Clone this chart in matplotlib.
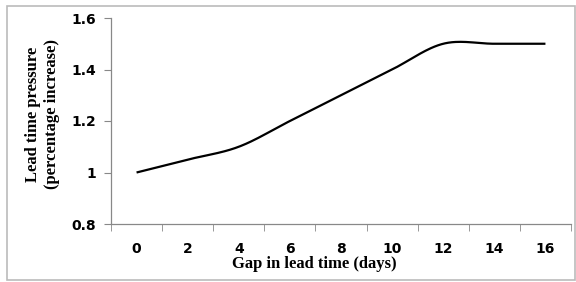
import numpy as np
import matplotlib.pyplot as plt
from matplotlib.patches import Rectangle

# data
gap_days = [0, 2, 4, 6, 8, 10, 12, 14, 16]
pressure = [1.0, 1.05, 1.1, 1.2, 1.3, 1.4, 1.5, 1.5, 1.5]

# smoothed line like a spreadsheet "smoothed line" (bezier through points)
def smooth(xs, ys, n=30):
    p = np.column_stack([xs, ys]).astype(float)
    p = np.vstack([p[0], p, p[-1]])
    out = []
    for i in range(1, len(p) - 2):
        p0, p1, p2, p3 = p[i - 1], p[i], p[i + 1], p[i + 2]
        c1 = p1 + (p2 - p0) / 6
        c2 = p2 - (p3 - p1) / 6
        t = np.linspace(0, 1, n)[:, None]
        seg = (1 - t)**3 * p1 + 3 * (1 - t)**2 * t * c1 + 3 * (1 - t) * t**2 * c2 + t**3 * p2
        out.append(seg if i == 1 else seg[1:])
    out = np.vstack(out)
    return out[:, 0], out[:, 1]

W, H = 576, 282
fig = plt.figure(figsize=(W / 100, H / 100), dpi=100)
ax = fig.add_axes([111 / W, 1 - 224 / H, 460 / W, (224 - 18) / H])

sx, sy = smooth(gap_days, pressure)
ax.plot(sx, sy, color="black", lw=1.6, solid_capstyle="butt")

ax.set_xlim(-1, 17)
ax.set_ylim(0.8, 1.6)
ax.set_yticks([0.8, 1.0, 1.2, 1.4, 1.6])
ax.set_yticklabels(["0.8", "1", "1.2", "1.4", "1.6"])
ax.set_xticks(gap_days)
ax.set_xticklabels([str(v) for v in gap_days])
ax.set_xticks(np.arange(-1, 18, 2), minor=True)
ax.tick_params(axis="x", which="major", length=0, pad=13)
ax.tick_params(axis="x", which="minor", length=5, color="#888888", direction="out")
ax.tick_params(axis="y", length=5, color="#888888", direction="out", pad=6)
for lab in ax.get_xticklabels() + ax.get_yticklabels():
    lab.set_fontfamily("DejaVu Sans")
    lab.set_fontweight("bold")
    lab.set_fontsize(10)

for s in ["top", "right"]:
    ax.spines[s].set_visible(False)
for s in ["left", "bottom"]:
    ax.spines[s].set_color("#888888")
    ax.spines[s].set_linewidth(0.9)

ax.set_xlabel("Gap in lead time (days)", fontfamily="Liberation Serif",
              fontweight="bold", fontsize=12, labelpad=-1)
ax.set_ylabel("Lead time pressure\n(percentage increase)", fontfamily="Liberation Serif",
              fontweight="bold", fontsize=12, labelpad=8, linespacing=1.2)
ax.xaxis.set_label_coords(0.443, -0.155)
ax.yaxis.label.set_y(0.534)

# outer chart border
fig.patches.append(Rectangle((7 / W, 1 - 280 / H), 568 / W, 274 / H,
                             transform=fig.transFigure, fill=False,
                             edgecolor="#bbbbbb", lw=1.2))

fig.savefig("out.png", dpi=100)
